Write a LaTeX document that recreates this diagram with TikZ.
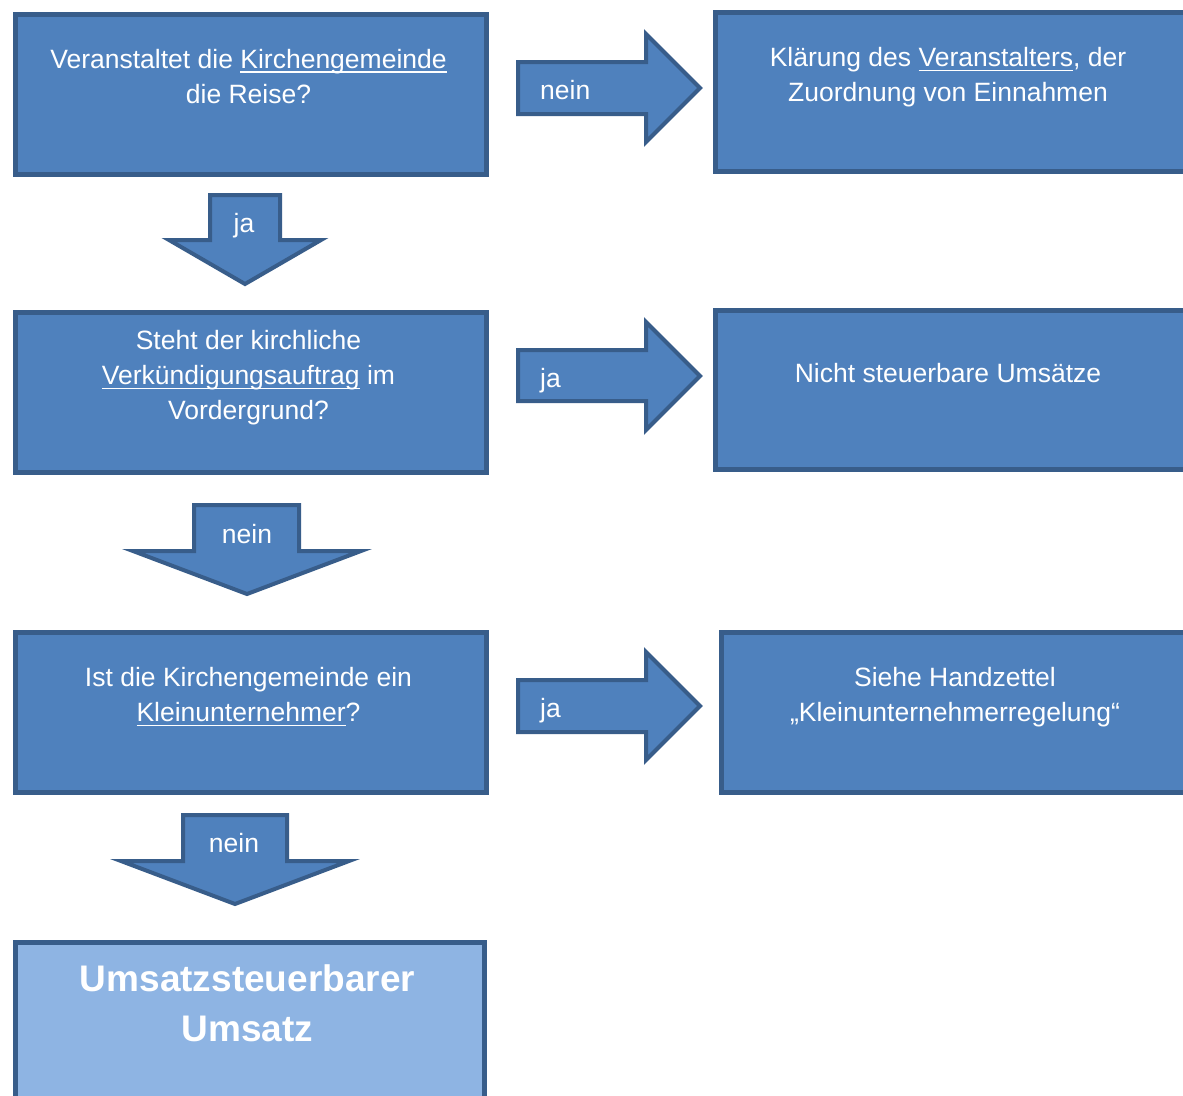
\documentclass[tikz,border=0pt]{standalone}
\usepackage{fontspec}
\setmainfont{Liberation Sans}
\definecolor{fillblue}{HTML}{4F81BD}
\definecolor{lineblue}{HTML}{385D8A}
\definecolor{lightblue}{HTML}{8EB4E3}
\newcommand\myul[1]{\setbox0\hbox{#1}\rlap{\rule[-0.17em]{\wd0}{0.07em}}\box0}
\tikzset{
  box/.style={draw=lineblue, fill=fillblue, line width=4.5pt, inner sep=0pt, anchor=north west},
  lightbox/.style={box, fill=lightblue},
  blockarrow/.style={draw=lineblue, fill=fillblue, line width=4pt, line join=miter},
  txt/.style={text=white, align=center, inner sep=0pt, anchor=north, font=\fontsize{26.5}{35}\selectfont},
  bigtxt/.style={txt, font=\fontsize{37}{50}\selectfont\bfseries},
  lbl/.style={text=white, inner sep=0pt, font=\fontsize{26.5}{35}\selectfont}
}
\begin{document}
\begin{tikzpicture}[x=1pt,y=-1pt]
\useasboundingbox (0,0) rectangle (1183,1095);
\clip (0,0) rectangle (1183,1095);
\fill[white] (0,0) rectangle (1183,1095);

% left boxes
\node[box, minimum width=471pt, minimum height=160pt] (b1) at (13,12) {};
\node[box, minimum width=471pt, minimum height=160pt] (b2) at (13,310) {};
\node[box, minimum width=471pt, minimum height=160pt] (b3) at (13,630) {};
\node[lightbox, minimum width=469pt, minimum height=200pt] (b4) at (13,940) {};
% right boxes
\node[box, minimum width=472pt, minimum height=159pt] (r1) at (713,10) {};
\node[box, minimum width=472pt, minimum height=159pt] (r2) at (713,308) {};
\node[box, minimum width=474pt, minimum height=160pt] (r3) at (719,630) {};

% texts
\node[txt] (t1) at (248.5,49) {Veranstaltet die \myul{Kirchengemeinde}\\die Reise?};
\node[txt] (t2) at (248.5,330.5) {Steht der kirchliche\\\myul{Verkündigungsauftrag}\ im\\Vordergrund?};
\node[txt] (t3) at (248.5,667.5) {Ist die Kirchengemeinde ein\\\myul{Kleinunternehmer}?};
\node[bigtxt] (t4) at (247.5,964) {Umsatzsteuerbarer\\Umsatz};
\node[txt] (u1) at (948,47.5) {Klärung des \myul{Veranstalters}, der\\Zuordnung von Einnahmen};
\node[txt] (u2) at (948,363.5) {Nicht steuerbare Umsätze};
\node[txt] (u3) at (955,667.5) {Siehe Handzettel\\„Kleinunternehmerregelung“};

% right block arrows
\draw[blockarrow] (518,62) -- (646,62) -- (646,34) -- (700,88) -- (646,142) -- (646,114) -- (518,114) -- cycle;
\draw[blockarrow] (518,350) -- (646,350) -- (646,322) -- (700,376) -- (646,430) -- (646,401) -- (518,401) -- cycle;
\draw[blockarrow] (518,680) -- (646,680) -- (646,652) -- (700,706) -- (646,760) -- (646,732) -- (518,732) -- cycle;
\node[lbl, anchor=base west] (a1) at (540,99) {nein};
\node[lbl, anchor=base west] (a2) at (540,387) {ja};
\node[lbl, anchor=base west] (a3) at (540,717) {ja};

% down block arrows
\draw[blockarrow] (210,195) -- (280,195) -- (280,240) -- (321,240) -- (245,284) -- (169,240) -- (210,240) -- cycle;
\draw[blockarrow] (194,505) -- (299,505) -- (299,551) -- (361,551) -- (247,594) -- (133,551) -- (194,551) -- cycle;
\draw[blockarrow] (183,815) -- (287,815) -- (287,861) -- (349,861) -- (235,904) -- (121,861) -- (183,861) -- cycle;
\node[lbl, anchor=base] (d1) at (244,232) {ja};
\node[lbl, anchor=base] (d2) at (247,543) {nein};
\node[lbl, anchor=base] (d3) at (234,852) {nein};
\end{tikzpicture}
\end{document}
